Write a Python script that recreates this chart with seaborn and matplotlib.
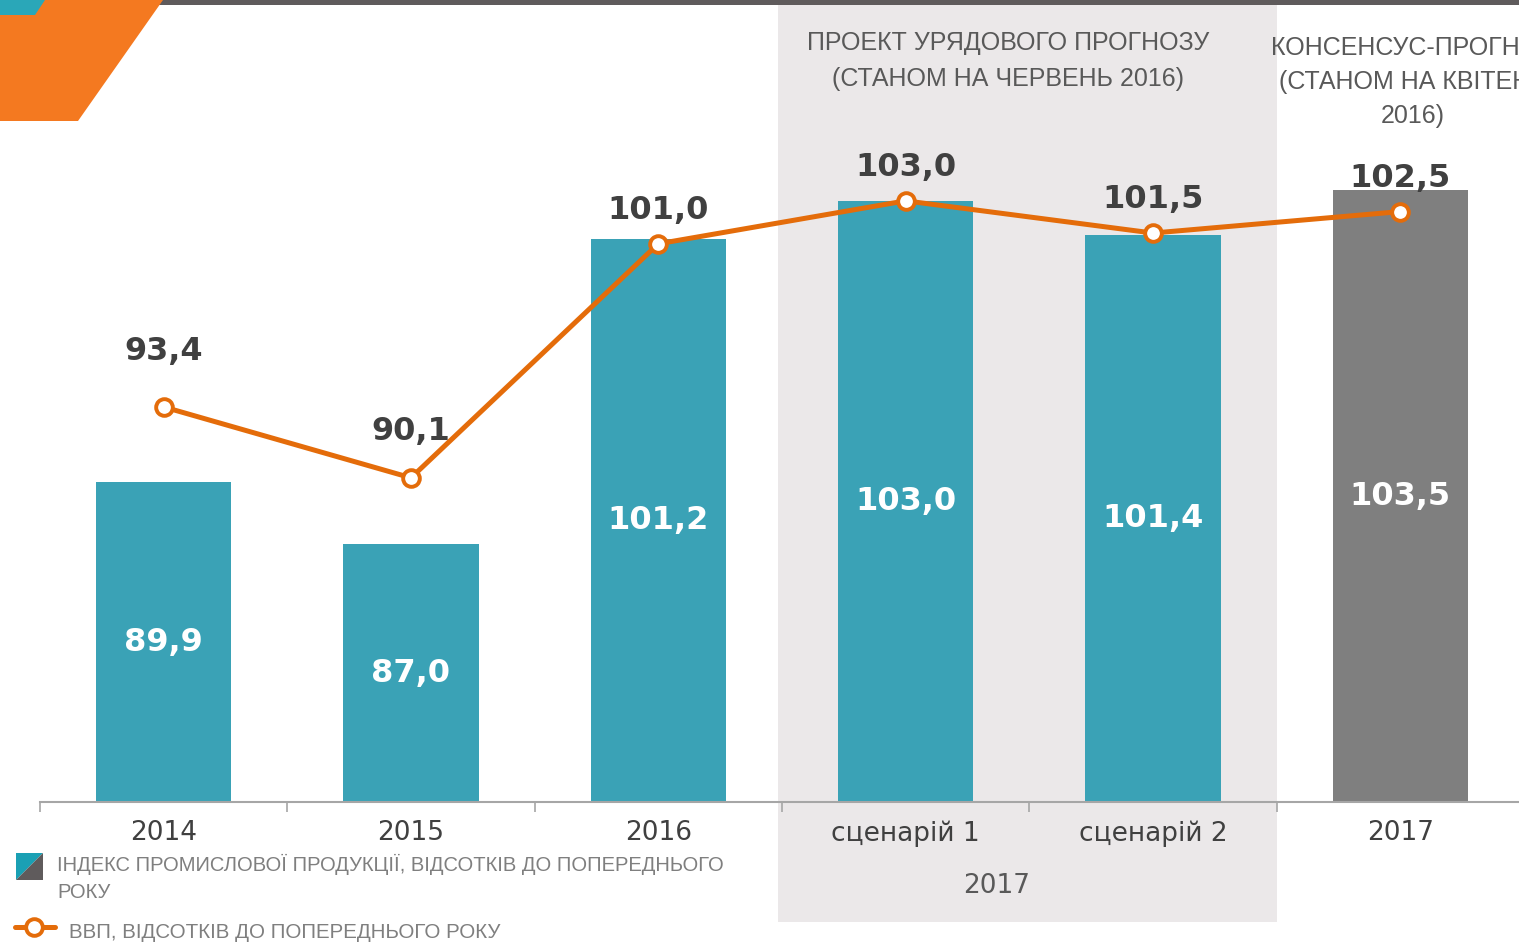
import numpy as np
import pandas as pd
import matplotlib
matplotlib.use("Agg")
import matplotlib.pyplot as plt
from matplotlib.patches import Polygon, Rectangle
from matplotlib.lines import Line2D
import seaborn as sns

# ─── ДАНІ ──────────────────────────────────────────────────────────────────────
categories = ["2014", "2015", "2016", "сценарій 1", "сценарій 2", "2017"]
industry = [89.9, 87.0, 101.2, 103.0, 101.4, 103.5]
gdp = [93.4, 90.1, 101.0, 103.0, 101.5, 102.5]
bar_colors = ["#3aa2b6", "#3aa2b6", "#3aa2b6", "#3aa2b6", "#3aa2b6", "#7f7f7f"]

header_gov = "ПРОЕКТ УРЯДОВОГО ПРОГНОЗУ\n(СТАНОМ НА ЧЕРВЕНЬ 2016)"
header_cons = "КОНСЕНСУС-ПРОГНОЗ\n(СТАНОМ НА КВІТЕНЬ\n2016)"
group_label = "2017"
legend_bar = "ІНДЕКС ПРОМИСЛОВОЇ ПРОДУКЦІЇ, ВІДСОТКІВ ДО ПОПЕРЕДНЬОГО\nРОКУ"
legend_line = "ВВП, ВІДСОТКІВ ДО ПОПЕРЕДНЬОГО РОКУ"

# ─── СТИЛЬ ─────────────────────────────────────────────────────────────────────
W, H = 1519, 942
ORANGE = "#e46c0a"
YMIN, YMAX = 75, 106
label_offsets = [40, 33, 24, 24, 24, 24]   # відступ підписів лінії, pt

sns.set_style("white")
plt.rcParams["font.family"] = ["DejaVu Sans"]


def fx(x):
    return x / W


def fy(y):
    return 1 - y / H


fig = plt.figure(figsize=(W / 100, H / 100), dpi=100)

# сірий фон для прогнозу уряду (виходить за межі осей)
fig.patches.append(Rectangle((fx(778), fy(922)), fx(1277) - fx(778), fy(5) - fy(922),
                             transform=fig.transFigure, facecolor="#ebe8e9",
                             edgecolor="none", zorder=-1))
# декор зверху
fig.patches.append(Polygon([(fx(160), fy(0)), (1, fy(0)), (1, fy(5)), (fx(157), fy(5))],
                           closed=True, transform=fig.transFigure,
                           facecolor="#5f5b5c", edgecolor="none", zorder=1))
fig.patches.append(Polygon([(0, fy(0)), (fx(163), fy(0)), (fx(78), fy(121)), (0, fy(121))],
                           closed=True, transform=fig.transFigure,
                           facecolor="#f47920", edgecolor="none", zorder=1))
fig.patches.append(Polygon([(0, fy(0)), (fx(45), fy(0)), (fx(35), fy(15)), (0, fy(15))],
                           closed=True, transform=fig.transFigure,
                           facecolor="#2aa7b8", edgecolor="none", zorder=2))

ax_bottom = fy(802)
ax_top = ax_bottom + (YMAX - YMIN) * 21.47 / H
ax = fig.add_axes([fx(40), ax_bottom, 1 - fx(40), ax_top - ax_bottom])
ax.patch.set_alpha(0)

df = pd.DataFrame({"cat": categories, "industry": industry, "gdp": gdp})

sns.barplot(data=df, x="cat", y="industry", hue="cat", palette=bar_colors,
            saturation=1, width=0.547, dodge=False, legend=False, linewidth=0,
            ax=ax, zorder=2)
sns.lineplot(x=np.arange(len(categories)), y=gdp, color=ORANGE, linewidth=3.6,
             marker="o", markersize=12, markerfacecolor="white",
             markeredgecolor=ORANGE, markeredgewidth=2.8, sort=False, ax=ax, zorder=4)

ax.set_ylim(YMIN, YMAX)
ax.set_xlim(-0.5, 5.48)

# підписи стовпців
for i, v in enumerate(industry):
    ax.text(i, (YMIN + v) / 2, f"{v:.1f}".replace(".", ","), ha="center", va="center",
            color="white", fontsize=23, fontweight="bold", zorder=5)

# підписи лінії
for i, v in enumerate(gdp):
    ax.annotate(f"{v:.1f}".replace(".", ","), (i, v), xytext=(0, label_offsets[i]),
                textcoords="offset points", ha="center", va="center",
                color="#404040", fontsize=23, fontweight="bold", zorder=5)

# осі
for s in ["left", "top", "right"]:
    ax.spines[s].set_visible(False)
ax.spines["bottom"].set_color("#a6a6a6")
ax.spines["bottom"].set_linewidth(1.5)
ax.set_yticks([])
ax.set_xticks(range(len(categories)))
ax.set_xticklabels(categories)
ax.set_xticks(np.arange(-0.5, 5.0, 1.0), minor=True)
ax.tick_params(axis="x", which="major", length=0, pad=13, labelsize=19,
               labelcolor="#404040")
ax.tick_params(axis="x", which="minor", length=7, width=1.2, color="#a6a6a6",
               direction="out", bottom=True)
ax.set_xlabel("")
ax.set_ylabel("")

# заголовки груп
fig.text(fx(1008), fy(61), header_gov, ha="center", va="center", fontsize=18,
         family="Liberation Sans", color="#595959", linespacing=1.6)
fig.text(fx(1413), fy(82), header_cons, ha="center", va="center", fontsize=18,
         family="Liberation Sans", color="#595959", linespacing=1.55)
fig.text(fx(997), fy(886), group_label, ha="center", va="center", fontsize=19,
         color="#595959")

# легенда
fig.patches.append(Polygon([(fx(16), fy(853)), (fx(43), fy(853)), (fx(16), fy(880))],
                           closed=True, transform=fig.transFigure,
                           facecolor="#1aa0b4", edgecolor="none", zorder=3))
fig.patches.append(Polygon([(fx(43), fy(853)), (fx(43), fy(880)), (fx(16), fy(880))],
                           closed=True, transform=fig.transFigure,
                           facecolor="#5f5b5c", edgecolor="none", zorder=3))
fig.text(fx(57), fy(854), legend_bar, ha="left", va="top", fontsize=14.5,
         family="Liberation Sans", color="#7f7f7f", linespacing=1.55)
fig.lines.append(Line2D([fx(15), fx(55)], [fy(927), fy(927)], transform=fig.transFigure,
                        color=ORANGE, linewidth=3.6))
fig.lines.append(Line2D([fx(34)], [fy(927)], transform=fig.transFigure, marker="o",
                        markersize=12, markerfacecolor="white", markeredgecolor=ORANGE,
                        markeredgewidth=2.8, color=ORANGE))
fig.text(fx(69), fy(932), legend_line, ha="left", va="center", fontsize=14.8,
         family="Liberation Sans", color="#7f7f7f")

fig.savefig("out.png", dpi=100)
